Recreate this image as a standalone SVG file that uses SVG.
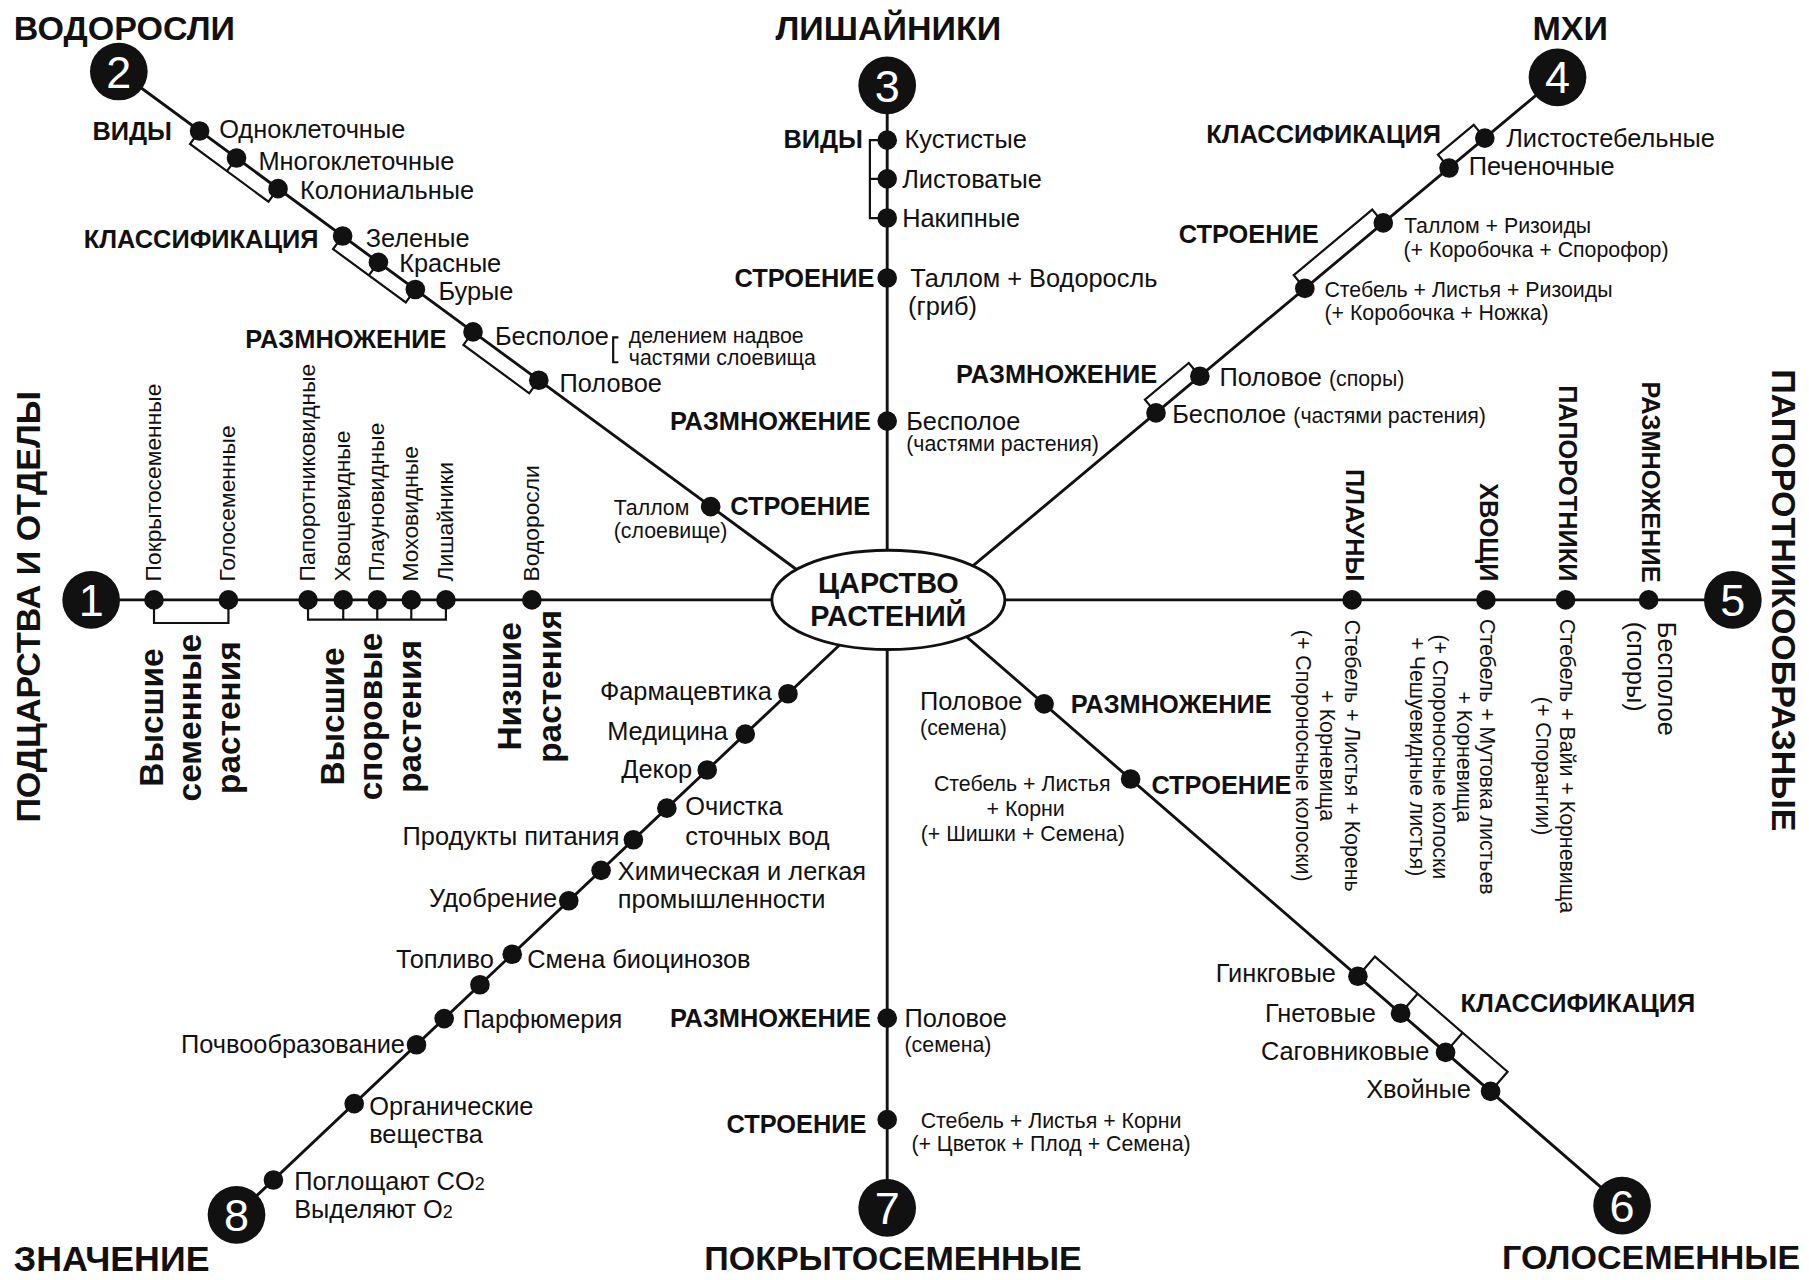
<svg xmlns="http://www.w3.org/2000/svg" width="1809" height="1280" viewBox="0 0 1809 1280">
<style>
text{font-family:"Liberation Sans",Arial,sans-serif;fill:#111}
.ln{stroke:#111;stroke-width:2.5;fill:none}
.br{stroke:#111;stroke-width:1.9;fill:none}
.dot{fill:#111}
.badge{fill:#111}
.num{fill:#fff;font-size:39px;text-anchor:middle}
.t{font-size:22px}
.s{font-size:18.5px}
.r{font-size:18.5px}
.v{font-size:19.8px}
.h{font-size:22px;font-weight:bold}
.T{font-size:29.5px;font-weight:bold}
.B{font-size:29px;font-weight:bold}
.C{font-size:25px;font-weight:bold}
.e{text-anchor:end}
.m{text-anchor:middle}
</style>
<rect width="1809" height="1280" fill="#fff"/>
<g transform="scale(1.1537)">
<g id="connectors">
<line class="ln" x1="79" y1="520" x2="1502" y2="520"/>
<line class="ln" x1="769" y1="74" x2="769" y2="1047"/>
<line class="ln" x1="103" y1="62" x2="729" y2="522"/>
<line class="ln" x1="1350" y1="67" x2="808" y2="520"/>
<line class="ln" x1="1406" y1="1045" x2="801" y2="520"/>
<line class="ln" x1="205" y1="1053" x2="769" y2="520"/>
<path class="br" d="M173,113.5 L164.7,124.8 L232.7,174.8 L241,163.5 M205,137 L196.7,148.3"/>
<path class="br" d="M297,204.6 L288.7,215.9 L351.7,262.2 L360,250.9 M328,227.4 L319.7,238.7"/>
<path class="br" d="M410,287.7 L401.7,299 L458.7,340.9 L467,329.6"/>
<path class="br" d="M769,121.5 H754 V189 H769 M754,155 H769"/>
<path class="br" d="M1287,119.7 L1277.4,108.2 L1246.4,134.1 L1256,145.6"/>
<path class="br" d="M1199,193.2 L1189.4,181.7 L1121.4,238.5 L1131,250"/>
<path class="br" d="M1040,326.1 L1030.4,314.6 L992.4,346.4 L1002,357.9"/>
<path class="br" d="M1177,846.2 L1191.75,829.2 L1306.75,929 L1292,946 M1214,878.3 L1228.75,861.3 M1253,912.2 L1267.75,895.2"/>
<path class="br" d="M133.5,520 V540 H198 V520"/>
<path class="br" d="M267,520 V537 H386.5 V520 M297.5,520 V537 M327,520 V537 M356.5,520 V537"/>
</g>

<g id="center">
<ellipse cx="770" cy="520" rx="101" ry="43" fill="#fff" stroke="#111" stroke-width="2.5"/>
<text class="C m" x="770" y="514">ЦАРСТВО</text>
<text class="C m" x="770" y="543">РАСТЕНИЙ</text>
</g>

<g id="badge1"><circle class="badge" cx="79" cy="520" r="25"/><text class="num" x="79" y="534">1</text>
<text class="T" transform="translate(35,713) rotate(-90)">ПОДЦАРСТВА И ОТДЕЛЫ</text></g>
<g id="badge2"><circle class="badge" cx="103" cy="62" r="25"/><text class="num" x="103" y="76">2</text>
<text class="T" x="12" y="35">ВОДОРОСЛИ</text></g>
<g id="badge3"><circle class="badge" cx="769" cy="74" r="25"/><text class="num" x="769" y="88">3</text>
<text class="T m" x="770" y="35">ЛИШАЙНИКИ</text></g>
<g id="badge4"><circle class="badge" cx="1350" cy="67" r="25"/><text class="num" x="1350" y="81">4</text>
<text class="T m" x="1361" y="35">МХИ</text></g>
<g id="badge5"><circle class="badge" cx="1502" cy="520" r="25"/><text class="num" x="1502" y="534">5</text>
<text class="T" transform="translate(1536,320) rotate(90)">ПАПОРОТНИКООБРАЗНЫЕ</text></g>
<g id="badge6"><circle class="badge" cx="1406" cy="1045" r="25"/><text class="num" x="1406" y="1059">6</text>
<text class="T" x="1302" y="1100">ГОЛОСЕМЕННЫЕ</text></g>
<g id="badge7"><circle class="badge" cx="769" cy="1047" r="25"/><text class="num" x="769" y="1061">7</text>
<text class="T m" x="774" y="1101">ПОКРЫТОСЕМЕННЫЕ</text></g>
<g id="badge8"><circle class="badge" cx="205" cy="1053" r="25"/><text class="num" x="205" y="1067">8</text>
<text class="T" x="12" y="1102" style="font-size:31px">ЗНАЧЕНИЕ</text></g>

<!-- Line 1 -->
<g id="s1a"><circle class="dot" cx="133.5" cy="520" r="8.5"/><text class="v" transform="translate(139.5,504) rotate(-90)">Покрытосеменные</text></g>
<g id="s1b"><circle class="dot" cx="198" cy="520" r="8.5"/><text class="v" transform="translate(204,504) rotate(-90)">Голосеменные</text></g>
<g id="s1c"><circle class="dot" cx="267" cy="520" r="8.5"/><text class="v" transform="translate(273,504) rotate(-90)">Папоротниковидные</text></g>
<g id="s1d"><circle class="dot" cx="297.5" cy="520" r="8.5"/><text class="v" transform="translate(303.5,504) rotate(-90)">Хвощевидные</text></g>
<g id="s1e"><circle class="dot" cx="327" cy="520" r="8.5"/><text class="v" transform="translate(333,504) rotate(-90)">Плауновидные</text></g>
<g id="s1f"><circle class="dot" cx="356.5" cy="520" r="8.5"/><text class="v" transform="translate(362.5,504) rotate(-90)">Моховидные</text></g>
<g id="s1g"><circle class="dot" cx="386.5" cy="520" r="8.5"/><text class="v" transform="translate(392.5,504) rotate(-90)">Лишайники</text></g>
<g id="s1h"><circle class="dot" cx="461" cy="520" r="8.5"/><text class="v" transform="translate(467,504) rotate(-90)">Водоросли</text></g>
<g id="grp-seed"><text class="B m" transform="translate(141,622) rotate(-90)"><tspan x="0" y="0">Высшие</tspan><tspan x="0" y="33.5">семенные</tspan><tspan x="0" y="67">растения</tspan></text></g>
<g id="grp-spore"><text class="B m" transform="translate(298,621) rotate(-90)"><tspan x="0" y="0">Высшие</tspan><tspan x="0" y="33.5">споровые</tspan><tspan x="0" y="67">растения</tspan></text></g>
<g id="grp-low"><text class="B m" transform="translate(452,595) rotate(-90)"><tspan x="0" y="0">Низшие</tspan><tspan x="0" y="34">растения</tspan></text></g>

<!-- Line 2 -->
<g id="s2a"><circle class="dot" cx="173" cy="113.5" r="8.5"/><text class="h e" x="149" y="121">ВИДЫ</text><text class="t" x="190" y="119.5">Одноклеточные</text></g>
<g id="s2b"><circle class="dot" cx="205" cy="137" r="8.5"/><text class="t" x="224" y="147">Многоклеточные</text></g>
<g id="s2c"><circle class="dot" cx="241" cy="163.5" r="8.5"/><text class="t" x="260" y="172.5">Колониальные</text></g>
<g id="s2d"><circle class="dot" cx="297" cy="204.6" r="8.5"/><text class="h e" x="276" y="215">КЛАССИФИКАЦИЯ</text><text class="t" x="317" y="214">Зеленые</text></g>
<g id="s2e"><circle class="dot" cx="328" cy="227.4" r="8.5"/><text class="t" x="346" y="236">Красные</text></g>
<g id="s2f"><circle class="dot" cx="360" cy="250.9" r="8.5"/><text class="t" x="380" y="260">Бурые</text></g>
<g id="s2g"><circle class="dot" cx="410" cy="287.7" r="8.5"/><text class="h e" x="387" y="302">РАЗМНОЖЕНИЕ</text><text class="t" x="429" y="299">Бесполое</text>
<path class="br" d="M536,292.5 H531.5 V314 H536"/>
<text class="s" x="545" y="297.5">делением надвое</text><text class="s" x="545" y="316.5">частями слоевища</text></g>
<g id="s2h"><circle class="dot" cx="467" cy="329.6" r="8.5"/><text class="t" x="485" y="339.5">Половое</text></g>
<g id="s2i"><circle class="dot" cx="616" cy="439.1" r="8.5"/><text class="s" x="532" y="446">Таллом</text><text class="s" x="532" y="466.5">(слоевище)</text><text class="h" x="633" y="446">СТРОЕНИЕ</text></g>

<!-- Line 3 -->
<g id="s3a"><circle class="dot" cx="769" cy="121.5" r="8.5"/><text class="h e" x="748" y="128.5">ВИДЫ</text><text class="t" x="784" y="128.5">Кустистые</text></g>
<g id="s3b"><circle class="dot" cx="769" cy="155" r="8.5"/><text class="t" x="782" y="163">Листоватые</text></g>
<g id="s3c"><circle class="dot" cx="769" cy="189" r="8.5"/><text class="t" x="782" y="196.5">Накипные</text></g>
<g id="s3d"><circle class="dot" cx="769" cy="241" r="8.5"/><text class="h e" x="758" y="248.5">СТРОЕНИЕ</text><text class="t" x="789" y="248.5">Таллом + Водоросль</text><text class="t" x="787" y="273">(гриб)</text></g>
<g id="s3e"><circle class="dot" cx="769" cy="365" r="8.5"/><text class="h e" x="755" y="373">РАЗМНОЖЕНИЕ</text><text class="t" x="785.5" y="373">Бесполое</text><text class="s" x="785.5" y="391">(частями растения)</text></g>

<!-- Line 4 -->
<g id="s4a"><circle class="dot" cx="1287" cy="119.7" r="8.5"/><text class="h e" x="1249" y="124">КЛАССИФИКАЦИЯ</text><text class="t" x="1305.5" y="127.5">Листостебельные</text></g>
<g id="s4b"><circle class="dot" cx="1256" cy="145.6" r="8.5"/><text class="t" x="1273" y="152">Печеночные</text></g>
<g id="s4c"><circle class="dot" cx="1199" cy="193.2" r="8.5"/><text class="h e" x="1143" y="211">СТРОЕНИЕ</text><text class="s" x="1217" y="202">Таллом + Ризоиды</text><text class="s" x="1216.5" y="222.5">(+ Коробочка + Спорофор)</text></g>
<g id="s4d"><circle class="dot" cx="1131" cy="250" r="8.5"/><text class="s" x="1148" y="257">Стебель + Листья + Ризоиды</text><text class="s" x="1148" y="277.5">(+ Коробочка + Ножка)</text></g>
<g id="s4e"><circle class="dot" cx="1040" cy="326.1" r="8.5"/><text class="h e" x="1003" y="332">РАЗМНОЖЕНИЕ</text><text class="t" x="1057" y="335">Половое <tspan class="s">(споры)</tspan></text></g>
<g id="s4f"><circle class="dot" cx="1002" cy="357.9" r="8.5"/><text class="t" x="1016" y="367">Бесполое <tspan class="s">(частями растения)</tspan></text></g>

<!-- Line 5 -->
<g id="s5a"><circle class="dot" cx="1172" cy="520" r="8.5"/><text class="h e" transform="translate(1166.5,504) rotate(90)">ПЛАУНЫ</text>
<text class="r m" transform="translate(1166,655) rotate(90)"><tspan x="0" y="0">Стебель + Листья + Корень</tspan><tspan x="0" y="22">+ Корневища</tspan><tspan x="0" y="43">(+ Спороносные колоски)</tspan></text></g>
<g id="s5b"><circle class="dot" cx="1288" cy="520" r="8.5"/><text class="h e" transform="translate(1282.5,504) rotate(90)">ХВОЩИ</text>
<text class="r m" transform="translate(1283,656) rotate(90)"><tspan x="0" y="0">Стебель + Мутовка листьев</tspan><tspan x="0" y="20.5">+ Корневища</tspan><tspan x="0" y="41">(+ Спороносные колоски</tspan><tspan x="0" y="61">+ Чешуевидные листья)</tspan></text></g>
<g id="s5c"><circle class="dot" cx="1357" cy="520" r="8.5"/><text class="h e" transform="translate(1351.5,504) rotate(90)">ПАПОРОТНИКИ</text>
<text class="r m" transform="translate(1352,664) rotate(90)"><tspan x="0" y="0">Стебель + Вайи + Корневища</tspan><tspan x="0" y="21">(+ Спорангии)</tspan></text></g>
<g id="s5d"><circle class="dot" cx="1429" cy="520" r="8.5"/><text class="h e" transform="translate(1423.5,505) rotate(90)">РАЗМНОЖЕНИЕ</text>
<text class="t" transform="translate(1437.5,539) rotate(90)"><tspan x="0" y="0">Бесполое</tspan><tspan x="0" y="27.5">(споры)</tspan></text></g>

<!-- Line 6 -->
<g id="s6a"><circle class="dot" cx="905" cy="610.1" r="8.5"/><text class="t" x="797.5" y="615.5">Половое</text><text class="s" x="797.5" y="637">(семена)</text><text class="h" x="928" y="618">РАЗМНОЖЕНИЕ</text></g>
<g id="s6b"><circle class="dot" cx="980" cy="675.2" r="8.5"/><text class="s m" x="886" y="686">Стебель + Листья</text><text class="s m" x="889" y="707">+ Корни</text><text class="s m" x="886.5" y="729">(+ Шишки + Семена)</text><text class="h" x="998" y="688">СТРОЕНИЕ</text></g>
<g id="s6c"><circle class="dot" cx="1177" cy="846.2" r="8.5"/><text class="t e" x="1158" y="851.5">Гинкговые</text></g>
<g id="s6d"><circle class="dot" cx="1214" cy="878.3" r="8.5"/><text class="t e" x="1192.5" y="886">Гнетовые</text></g>
<g id="s6e"><circle class="dot" cx="1253" cy="912.2" r="8.5"/><text class="t e" x="1239" y="919">Саговниковые</text></g>
<g id="s6f"><circle class="dot" cx="1292" cy="946" r="8.5"/><text class="t e" x="1275" y="952">Хвойные</text></g>
<g id="g6cls"><text class="h" x="1266" y="877.5">КЛАССИФИКАЦИЯ</text></g>

<!-- Line 7 -->
<g id="s7a"><circle class="dot" cx="769" cy="882.5" r="8.5"/><text class="h e" x="755" y="890">РАЗМНОЖЕНИЕ</text><text class="t" x="784" y="890">Половое</text><text class="s" x="784" y="911.5">(семена)</text></g>
<g id="s7b"><circle class="dot" cx="769" cy="970.5" r="8.5"/><text class="h e" x="751" y="982">СТРОЕНИЕ</text><text class="s m" x="911" y="978">Стебель + Листья + Корни</text><text class="s m" x="911" y="998">(+ Цветок + Плод + Семена)</text></g>

<!-- Line 8 -->
<g id="s8a"><circle class="dot" cx="683" cy="601.3" r="8.5"/><text class="t e" x="669" y="607">Фармацевтика</text></g>
<g id="s8b"><circle class="dot" cx="646" cy="636.3" r="8.5"/><text class="t e" x="631" y="641.5">Медицина</text></g>
<g id="s8c"><circle class="dot" cx="613" cy="667.4" r="8.5"/><text class="t e" x="600" y="674.5">Декор</text></g>
<g id="s8d"><circle class="dot" cx="578" cy="700.5" r="8.5"/><text class="t" x="594" y="706.5">Очистка</text><text class="t" x="594" y="732.5">сточных вод</text></g>
<g id="s8e"><circle class="dot" cx="549" cy="727.9" r="8.5"/><text class="t e" x="537" y="732.5">Продукты питания</text></g>
<g id="s8f"><circle class="dot" cx="521" cy="754.4" r="8.5"/><text class="t" x="535.5" y="763">Химическая и легкая</text><text class="t" x="535.5" y="787">промышленности</text></g>
<g id="s8g"><circle class="dot" cx="493" cy="780.8" r="8.5"/><text class="t e" x="483" y="786">Удобрение</text></g>
<g id="s8h"><circle class="dot" cx="444" cy="827.1" r="8.5"/><text class="t e" x="428" y="839">Топливо</text><text class="t" x="457" y="839">Смена биоцинозов</text></g>
<g id="s8i"><circle class="dot" cx="416" cy="853.6" r="8.5"/></g>
<g id="s8j"><circle class="dot" cx="385" cy="882.9" r="8.5"/><text class="t" x="401" y="891">Парфюмерия</text></g>
<g id="s8k"><circle class="dot" cx="361" cy="905.6" r="8.5"/><text class="t e" x="351" y="913">Почвообразование</text></g>
<g id="s8l"><circle class="dot" cx="307" cy="956.6" r="8.5"/><text class="t" x="320" y="966.5">Органические</text><text class="t" x="320" y="991">вещества</text></g>
<g id="s8m"><circle class="dot" cx="237" cy="1022.8" r="8.5"/><text class="t" x="255" y="1031.5">Поглощают CO<tspan font-size="15.5">2</tspan></text><text class="t" x="255" y="1056">Выделяют O<tspan font-size="15.5">2</tspan></text></g>
</g>
</svg>
